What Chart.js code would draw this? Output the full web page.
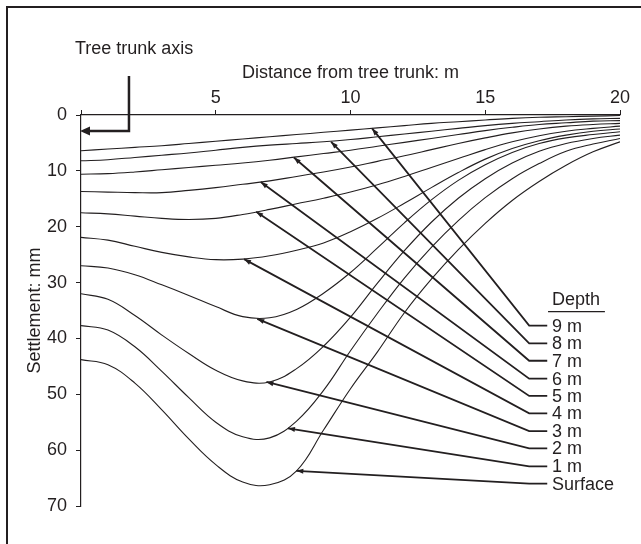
<!DOCTYPE html>
<html>
<head>
<meta charset="utf-8">
<script src="https://cdn.jsdelivr.net/npm/chart.js@4.4.1/dist/chart.umd.min.js"></script>
<style>
  html, body { margin: 0; padding: 0; background: #fff; }
  #wrap { position: relative; width: 641px; height: 544px; }
</style>
</head>
<body>
<div id="wrap"><canvas id="chart" width="641" height="544"></canvas></div>
<script>
// distance from tree trunk (m)
const distance = [0, 1, 2, 3, 4, 5, 6, 7, 8, 9, 10, 11, 12, 13, 14, 15, 16, 17, 18, 19, 20];

// settlement (mm) at each depth
const settlementSurface = [43.8, 44.7, 48.0, 52.8, 58.0, 62.6, 65.7, 66.2, 63.7, 56.4, 49.0, 42.4, 35.4, 29.4, 24.1, 19.4, 15.3, 11.9, 9.0, 6.6, 4.8];
const settlement1m = [37.7, 38.5, 41.5, 45.9, 50.6, 55.0, 57.6, 57.8, 54.8, 49.3, 42.2, 35.5, 29.2, 23.7, 18.9, 14.8, 11.4, 8.7, 6.5, 5.2, 4.2];
const settlement2m = [32.0, 33.0, 35.9, 39.4, 42.7, 45.7, 47.6, 47.8, 45.4, 41.4, 36.2, 30.1, 24.3, 19.2, 14.9, 11.4, 8.6, 6.5, 5.1, 4.2, 3.6];
const settlement3m = [27.0, 27.4, 28.6, 30.4, 32.3, 34.3, 36.1, 36.3, 34.8, 31.9, 28.2, 23.8, 19.3, 15.2, 11.7, 8.9, 6.7, 5.1, 4.1, 3.5, 3.0];
const settlement4m = [21.9, 22.4, 23.5, 24.6, 25.4, 25.9, 25.8, 25.2, 24.2, 22.9, 20.9, 18.5, 15.8, 13.0, 10.3, 7.9, 6.0, 4.6, 3.6, 2.9, 2.5];
const settlement5m = [17.5, 17.7, 18.1, 18.5, 18.7, 18.5, 17.8, 16.9, 15.9, 14.9, 13.8, 12.5, 11.0, 9.4, 7.8, 6.2, 4.8, 3.7, 2.9, 2.4, 2.0];
const settlement6m = [13.7, 13.8, 13.9, 13.9, 13.5, 13.0, 12.4, 11.8, 11.0, 10.2, 9.3, 8.3, 7.3, 6.2, 5.1, 4.1, 3.2, 2.5, 2.0, 1.7, 1.5];
const settlement7m = [10.6, 10.5, 10.2, 9.8, 9.4, 9.0, 8.6, 8.1, 7.5, 6.9, 6.3, 5.6, 4.9, 4.2, 3.5, 2.8, 2.2, 1.7, 1.4, 1.1, 1.0];
const settlement8m = [8.2, 8.0, 7.6, 7.2, 6.8, 6.3, 5.8, 5.4, 5.1, 4.8, 4.4, 3.9, 3.4, 2.9, 2.4, 1.9, 1.5, 1.2, 0.9, 0.7, 0.6];
const settlement9m = [6.4, 6.1, 5.8, 5.5, 5.1, 4.7, 4.3, 3.9, 3.5, 3.1, 2.7, 2.3, 1.9, 1.5, 1.2, 0.9, 0.6, 0.4, 0.3, 0.2, 0.1];

const depthLabels = ['9 m', '8 m', '7 m', '6 m', '5 m', '4 m', '3 m', '2 m', '1 m', 'Surface'];
const depthSeries = [settlement9m, settlement8m, settlement7m, settlement6m, settlement5m,
                     settlement4m, settlement3m, settlement2m, settlement1m, settlementSurface];

// where each label's pointer touches its curve (distance, settlement)
const pointerX = [10.8, 9.28, 7.9, 6.67, 6.5, 6.05, 6.54, 6.88, 7.68, 7.99];
const pointerY = [2.4, 4.8, 7.6, 12.0, 17.3, 25.8, 36.5, 47.8, 56.1, 63.7];

const xTicks = [0, 5, 10, 15, 20];
const yTicks = [0, 10, 20, 30, 40, 50, 60, 70];

// layout of the label column (in axis units)
const labelRowY = [37.7, 40.9, 44.0, 47.2, 50.3, 53.4, 56.6, 59.7, 62.9, 66.0];
const leaderBendX = 16.63, leaderEndX = 17.3, labelX = 17.48;

const ink = '#231f20';
const font18 = { family: '"Liberation Sans", Arial, sans-serif', size: 18 };

const datasets = [];
depthSeries.forEach((s, i) => {
    datasets.push({
        label: depthLabels[i],
        data: distance.map((d, j) => ({ x: d, y: s[j] })),
        borderColor: ink,
        borderWidth: 1.1,
        pointRadius: 0,
        tension: 0.4,
        fill: false
    });
});
depthLabels.forEach((lab, i) => {
    datasets.push({
        label: lab + ' pointer',
        data: [
            { x: pointerX[i], y: pointerY[i] },
            { x: leaderBendX, y: labelRowY[i] },
            { x: leaderEndX, y: labelRowY[i] }
        ],
        borderColor: ink,
        borderWidth: 1.8,
        pointRadius: 0,
        tension: 0,
        fill: false
    });
});

const extras = {
    id: 'extras',
    afterDraw(chart) {
        const ctx = chart.ctx;
        const xs = chart.scales.x, ys = chart.scales.y;
        ctx.save();
        ctx.strokeStyle = ink;
        ctx.fillStyle = ink;

        // outer frame (left and top edges visible)
        ctx.lineWidth = 2;
        ctx.beginPath();
        ctx.moveTo(7, 544);
        ctx.lineTo(7, 7);
        ctx.lineTo(641, 7);
        ctx.stroke();

        // arrowheads on the pointers
        depthLabels.forEach((lab, i) => {
            const tx = xs.getPixelForValue(pointerX[i]), ty = ys.getPixelForValue(pointerY[i]);
            const bx = xs.getPixelForValue(leaderBendX), by = ys.getPixelForValue(labelRowY[i]);
            const a = Math.atan2(ty - by, tx - bx);
            ctx.beginPath();
            ctx.moveTo(tx, ty);
            ctx.lineTo(tx - 7 * Math.cos(a) + 2.5 * Math.sin(a), ty - 7 * Math.sin(a) - 2.5 * Math.cos(a));
            ctx.lineTo(tx - 7 * Math.cos(a) - 2.5 * Math.sin(a), ty - 7 * Math.sin(a) + 2.5 * Math.cos(a));
            ctx.closePath();
            ctx.fill();
        });

        // label column
        ctx.font = '18px "Liberation Sans", Arial, sans-serif';
        ctx.textAlign = 'left';
        ctx.textBaseline = 'middle';
        const lx = xs.getPixelForValue(labelX);
        depthLabels.forEach((lab, i) => {
            ctx.fillText(lab, lx, ys.getPixelForValue(labelRowY[i]) + 1);
        });
        ctx.fillText('Depth', lx, ys.getPixelForValue(33.1));
        ctx.lineWidth = 1.3;
        ctx.beginPath();
        ctx.moveTo(xs.getPixelForValue(17.33), ys.getPixelForValue(35.2));
        ctx.lineTo(xs.getPixelForValue(19.44), ys.getPixelForValue(35.2));
        ctx.stroke();

        // tree trunk axis marker
        const trunkX = xs.getPixelForValue(1.78);
        const trunkY = ys.getPixelForValue(2.86);
        const x0 = xs.getPixelForValue(0);
        ctx.lineWidth = 2.5;
        ctx.beginPath();
        ctx.moveTo(trunkX, 76);
        ctx.lineTo(trunkX, trunkY);
        ctx.lineTo(x0 + 8, trunkY);
        ctx.stroke();
        ctx.beginPath();
        ctx.moveTo(x0 - 1, trunkY);
        ctx.lineTo(x0 + 9, trunkY - 4.5);
        ctx.lineTo(x0 + 9, trunkY + 4.5);
        ctx.closePath();
        ctx.fill();
        ctx.textBaseline = 'middle';
        ctx.fillText('Tree trunk axis', 75, 49);
        ctx.restore();
    }
};

new Chart(document.getElementById('chart'), {
    type: 'line',
    data: { datasets },
    options: {
        responsive: false,
        animation: false,
        events: [],
        layout: { padding: { left: 0, top: 0, right: 21, bottom: 38 } },
        plugins: { legend: { display: false }, tooltip: { enabled: false } },
        scales: {
            x: {
                type: 'linear',
                position: 'top',
                min: 0,
                max: 20,
                afterBuildTicks: s => { s.ticks = xTicks.map(v => ({ value: v })); },
                afterFit: s => { s.height = 115; },
                ticks: {
                    font: font18, color: ink, padding: 1, maxRotation: 0,
                    callback: v => (v === 0 ? '' : String(v))
                },
                grid: { drawOnChartArea: false, drawTicks: true, tickLength: 5, color: ink, lineWidth: 1 },
                border: { display: true, color: ink, width: 1.2 },
                title: {
                    display: true, text: 'Distance from tree trunk: m',
                    font: font18, color: ink, padding: { top: 62, bottom: 0 }
                }
            },
            y: {
                type: 'linear',
                position: 'left',
                reverse: true,
                min: 0,
                max: 70,
                afterBuildTicks: s => { s.ticks = yTicks.map(v => ({ value: v })); },
                afterFit: s => { s.width = 81; },
                ticks: { font: font18, color: ink, padding: 9 },
                grid: { drawOnChartArea: false, drawTicks: true, tickLength: 5, color: ink, lineWidth: 1 },
                border: { display: true, color: ink, width: 1.2 },
                title: {
                    display: true, text: 'Settlement: mm',
                    font: font18, color: ink, padding: { top: 24, bottom: 0 }
                }
            }
        }
    },
    plugins: [extras]
});
</script>
</body>
</html>
